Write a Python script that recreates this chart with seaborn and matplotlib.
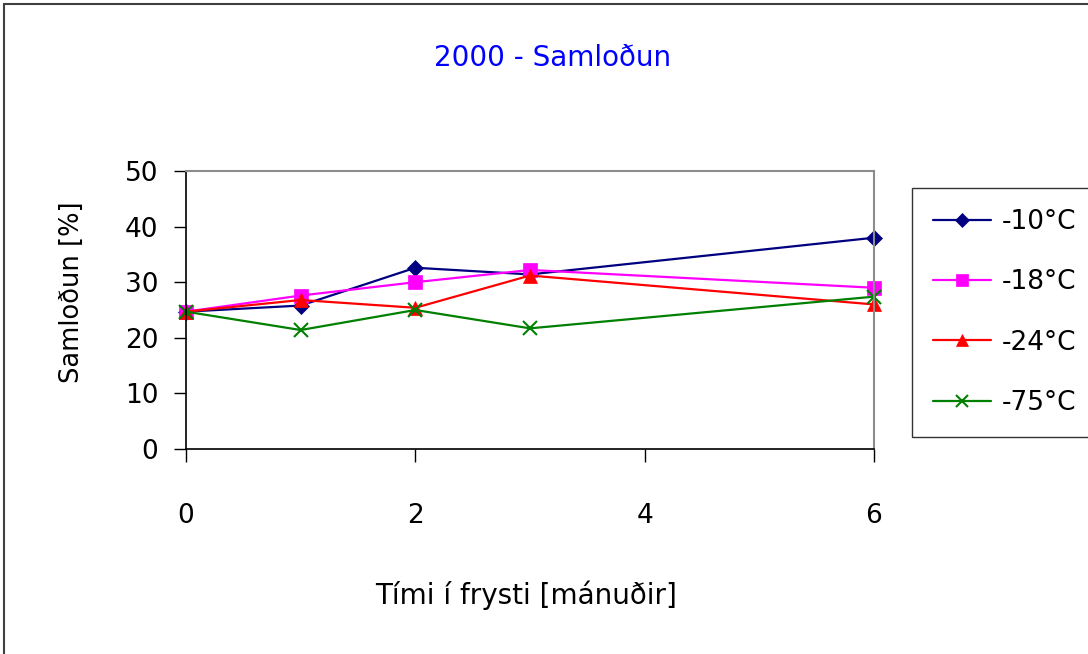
import matplotlib
matplotlib.use("Agg")
import matplotlib.pyplot as plt
from matplotlib.lines import Line2D
import pandas as pd
import seaborn as sns

# Storage time in months and aggregation (%) per freezing temperature
months = [0, 1, 2, 3, 6]
series_names = ["-10°C", "-18°C", "-24°C", "-75°C"]
vals_m10 = [24.7, 25.8, 32.6, 31.4, 38.0]
vals_m18 = [24.7, 27.6, 30.0, 32.2, 29.0]
vals_m24 = [24.7, 26.8, 25.4, 31.2, 26.0]
vals_m75 = [24.7, 21.4, 25.0, 21.7, 27.4]
x_ticks = [0, 2, 4, 6]
y_ticks = [0, 10, 20, 30, 40, 50]

title_text = "2000 - Samloðun"
x_label = "Tími í frysti [mánuðir]"
y_label = "Samloðun [%]"

rows = []
for name, vals in zip(series_names, [vals_m10, vals_m18, vals_m24, vals_m75]):
    for m, v in zip(months, vals):
        rows.append({"Mánuðir": m, "Samloðun": v, "Hitastig": name})
df = pd.DataFrame(rows)

sns.set_theme(style="white")
plt.rcParams["font.family"] = ["DejaVu Sans"]
plt.rcParams["text.color"] = "black"
plt.rcParams["axes.labelcolor"] = "black"
plt.rcParams["xtick.color"] = "black"
plt.rcParams["ytick.color"] = "black"

colors = dict(zip(series_names, ["#000080", "#FF00FF", "#FF0000", "#008000"]))
markers = dict(zip(series_names, ["D", "s", "^", "x"]))
msizes = {"-10°C": 8, "-18°C": 9.5, "-24°C": 9.5, "-75°C": 10}

fig = plt.figure(figsize=(10.88, 6.54), dpi=100)
ax = fig.add_axes([186 / 1088, 1 - 449 / 654, (874 - 186) / 1088, (449 - 171) / 654])

for name in series_names:
    sub = df[df["Hitastig"] == name]
    mew = 1.5 if name == "-75°C" else 0.5
    sns.lineplot(data=sub, x="Mánuðir", y="Samloðun", color=colors[name],
                 marker=markers[name], markersize=msizes[name],
                 markeredgecolor=colors[name], markeredgewidth=mew,
                 linewidth=1.6, ax=ax, legend=False, clip_on=False)

ax.set_xlim(0, 6)
ax.set_ylim(0, 50)
ax.set_xticks(x_ticks)
ax.set_yticks(y_ticks)
ax.tick_params(axis="both", direction="out", length=9, width=1, color="black",
               labelcolor="black", labelsize=19, bottom=True, left=True)
ax.tick_params(axis="x", pad=30)
ax.tick_params(axis="y", pad=11)

for side in ["left", "bottom"]:
    ax.spines[side].set_color("black")
    ax.spines[side].set_linewidth(1.2)
for side in ["top", "right"]:
    ax.spines[side].set_visible(True)
    ax.spines[side].set_color("#8c8c8c")
    ax.spines[side].set_linewidth(1.5)

ax.set_xlabel(x_label, fontsize=20, color="black")
ax.xaxis.set_label_coords(526 / 1088, 1 - 580 / 654, transform=fig.transFigure)
ax.set_ylabel(y_label, fontsize=18.5, color="black")
ax.yaxis.set_label_coords(85 / 1088, 1 - 292 / 654, transform=fig.transFigure)

fig.text(553 / 1088, 1 - 58 / 654, title_text, color="#0000FF", fontsize=20,
         ha="center", va="center")

handles = [Line2D([0], [0], color=colors[n], marker=markers[n], linewidth=1.6,
                  markersize=msizes[n] * 0.9, markeredgecolor=colors[n],
                  markeredgewidth=1.5 if n == "-75°C" else 0.5)
           for n in series_names]
leg = fig.legend(handles, series_names, loc="upper left",
                 bbox_to_anchor=(912 / 1088, 1 - 188 / 654), fontsize=19,
                 frameon=True, fancybox=False, handlelength=2.2,
                 labelspacing=1.3, borderpad=0.8, handletextpad=0.4,
                 borderaxespad=0)
leg.get_frame().set_edgecolor("black")
leg.get_frame().set_linewidth(1.0)
for t in leg.get_texts():
    t.set_color("black")

# Outer chart frame (top and left edges visible)
fig.add_artist(Line2D([4 / 1088, 1], [1 - 4 / 654, 1 - 4 / 654],
                      transform=fig.transFigure, color="#404040", linewidth=1.5))
fig.add_artist(Line2D([4 / 1088, 4 / 1088], [0, 1 - 4 / 654],
                      transform=fig.transFigure, color="#404040", linewidth=1.5))

fig.savefig("out.png", dpi=100, facecolor="white")
